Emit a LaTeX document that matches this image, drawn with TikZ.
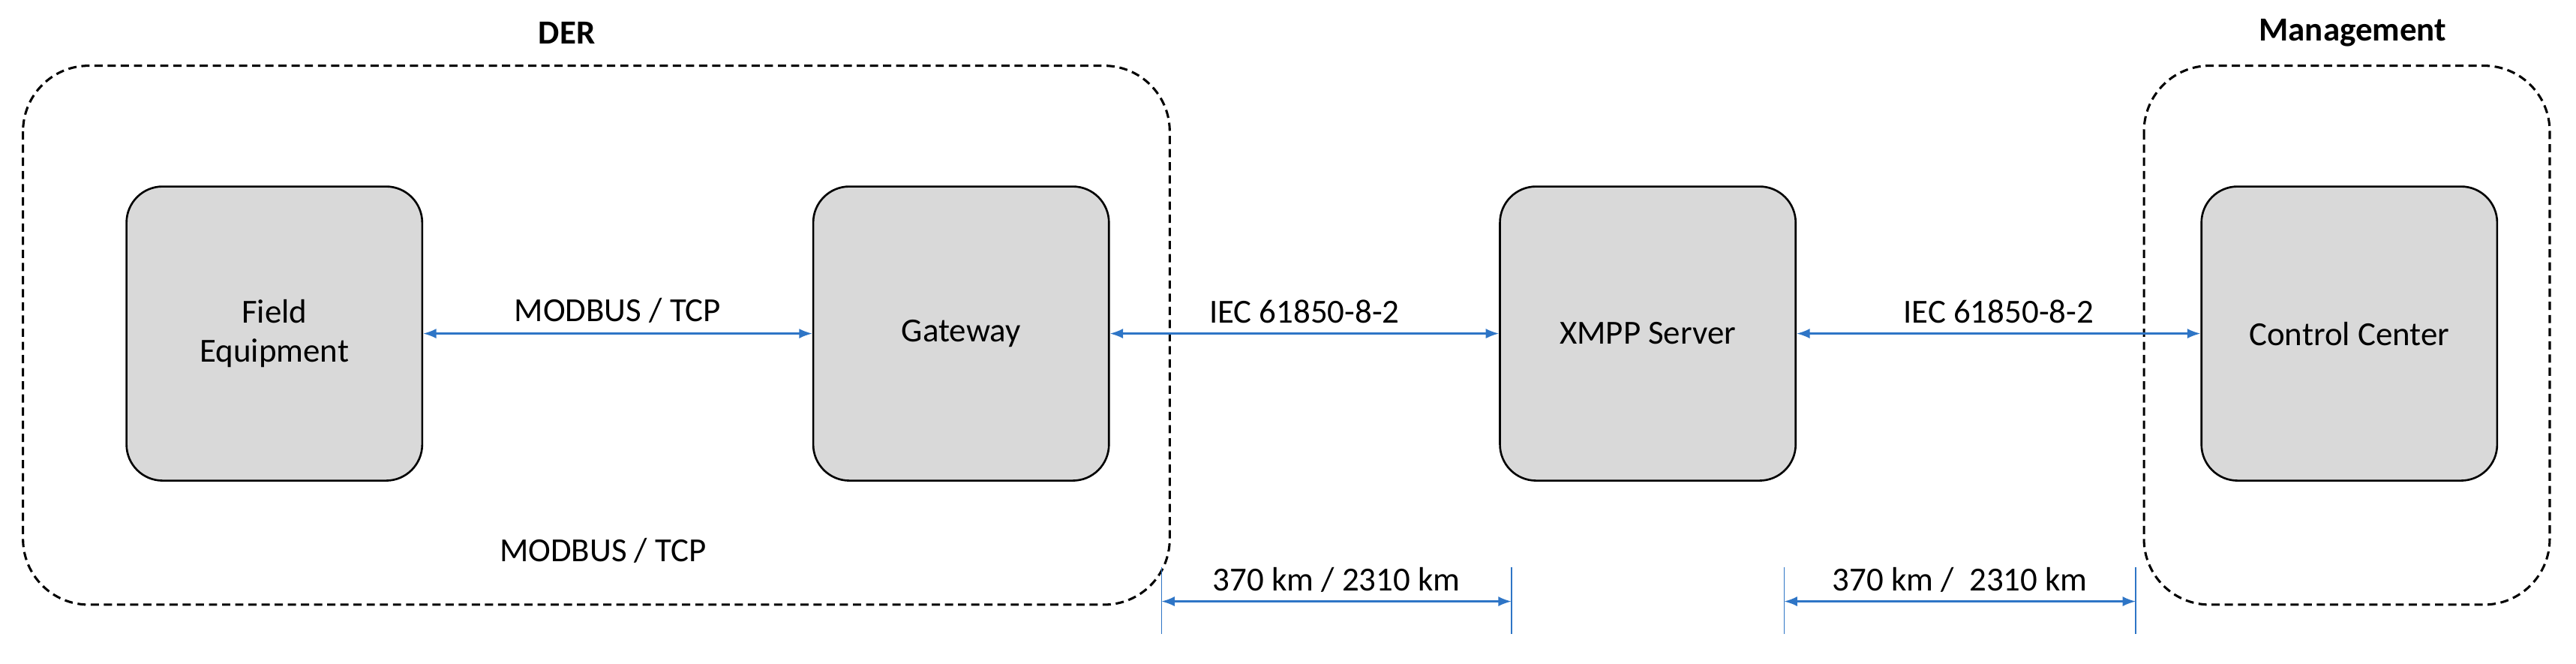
\documentclass[tikz,border=0pt]{standalone}
\usepackage{fontspec}
\setmainfont{Carlito}
\usetikzlibrary{arrows.meta}
\definecolor{boxgray}{HTML}{D9D9D9}
\definecolor{arrblue}{HTML}{2E75C6}
\begin{document}
\begin{tikzpicture}[x=1pt,y=-1pt,
  font=\fontsize{20.5}{24}\selectfont,
  dev/.style={draw=black, line width=1.2pt, fill=boxgray, rounded corners=22pt, minimum width=180pt, minimum height=179pt, align=center},
  grp/.style={draw=black, line width=1.4pt, dash pattern=on 5pt off 3pt, rounded corners=40pt},
  link/.style={arrblue, line width=1pt, {Latex[length=8pt,width=6pt]}-{Latex[length=8pt,width=6pt]}},
  tick/.style={arrblue, line width=0.8pt},
  lbl/.style={inner sep=2pt}]
\useasboundingbox (0,0) rectangle (1568,404);
\draw[grp] (14,40) rectangle (712,368);
\draw[grp] (1305,40) rectangle (1552,368);
\node[font=\fontsize{20.5}{24}\selectfont\bfseries] (der) at (345,20) {DER};
\node[font=\fontsize{20.5}{24}\selectfont\bfseries] (mgmt) at (1432,20) {Management};
\node[dev] (fe) at (167,203) {Field\\Equipment};
\node[dev] (gw) at (585,203) {Gateway};
\node[dev] (xs) at (1003,203) {XMPP Server};
\node[dev] (cc) at (1430,203) {Control Center};
\draw[link] (fe.east) -- node[lbl,above=4pt,black] {MODBUS / TCP} (gw.west);
\draw[link] (gw.east) -- node[lbl,above=4pt,black] {IEC 61850-8-2} (xs.west);
\draw[link] (xs.east) -- node[lbl,above=4pt,black] {IEC 61850-8-2} (cc.west);
\node (mt) at (367,335) {MODBUS / TCP};
\coordinate (a1t) at (707,345); \coordinate (a1b) at (707,386);
\coordinate (a2t) at (920,345); \coordinate (a2b) at (920,386);
\coordinate (b1t) at (1086,345); \coordinate (b1b) at (1086,386);
\coordinate (b2t) at (1300,345); \coordinate (b2b) at (1300,386);
\draw[tick] (a1t) -- (a1b); \draw[tick] (a2t) -- (a2b);
\draw[tick] (b1t) -- (b1b); \draw[tick] (b2t) -- (b2b);
\coordinate (a1) at (707,366); \coordinate (a2) at (920,366);
\coordinate (b1) at (1086,366); \coordinate (b2) at (1300,366);
\draw[link] (a1) -- node[lbl,above=3pt,black] {370 km / 2310 km} (a2);
\draw[link] (b1) -- node[lbl,above=3pt,black] {370 km /\ \ 2310 km} (b2);
\end{tikzpicture}
\end{document}
